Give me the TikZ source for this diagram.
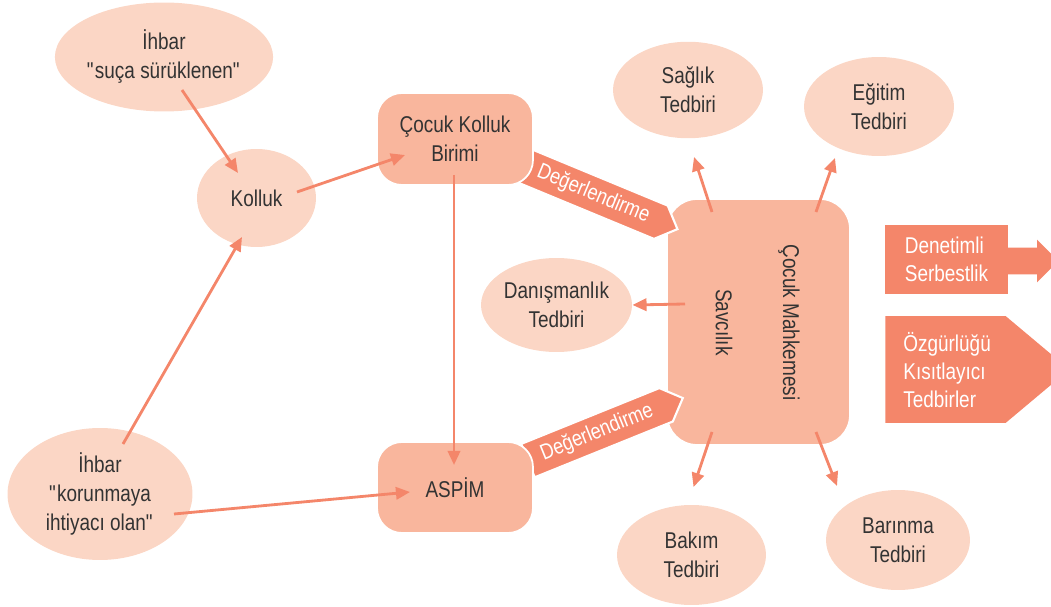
\documentclass[tikz,border=0pt]{standalone}
\usepackage{fontspec}
\setmainfont{Liberation Sans}[FakeStretch=0.83]
\usepackage[svgnames]{xcolor}
\usepackage{tikz}
\usetikzlibrary{shapes.geometric}
\usetikzlibrary{shapes.symbols}
\usetikzlibrary{shapes.arrows}
\usetikzlibrary{arrows.meta}
\usetikzlibrary{calc}
\definecolor{claro}{HTML}{FBD6C5}
\definecolor{medio}{HTML}{F9B69D}
\definecolor{fuerte}{HTML}{F4866A}
\definecolor{texto}{HTML}{333333}
\pgfdeclarelayer{fondo}
\pgfdeclarelayer{bandas}
\pgfdeclarelayer{esquema}
\pgfsetlayers{fondo,bandas,esquema,main}
\tikzstyle{none}=[inner sep=0pt]
\tikzstyle{tedbir}=[ellipse,fill=claro,text=texto,font=\fontsize{13}{16.5}\selectfont,align=center,inner sep=0pt]
\tikzstyle{birim}=[rectangle,rounded corners=0.5cm,fill=medio,draw=white,line width=1pt,text=texto,font=\fontsize{13}{16.5}\selectfont,align=center,inner sep=0pt]
\tikzstyle{dikey}=[text=texto,font=\fontsize{13}{13}\selectfont,rotate=-90,inner sep=0pt]
\tikzstyle{banda}=[signal,signal to=east,fill=fuerte,draw=white,line width=1.2pt,text=white,font=\fontsize{12.5}{12.5}\selectfont,inner sep=1pt,minimum height=0.72cm,anchor=west]
\tikzstyle{karar}=[rectangle,fill=fuerte,text=white,font=\fontsize{13}{16.2}\selectfont,align=left,inner sep=0pt]
\tikzstyle{yazi}=[text=white,font=\fontsize{13}{15.8}\selectfont,align=left,inner sep=0pt,anchor=west]
\tikzstyle{line}=[draw=fuerte,line width=1.6pt,-{Triangle[length=8pt,width=7pt]}]

\begin{document}
\begin{tikzpicture}[x=0.02cm,y=-0.02cm]
		\useasboundingbox (0,0) rectangle (1051,607);
		\begin{pgfonlayer}{fondo}
			\node [style=birim,rounded corners=0.6cm,minimum width=3.66cm,minimum height=4.92cm] (mahkeme) at (758.5,322) {};
		\end{pgfonlayer}
		\begin{pgfonlayer}{bandas}
			\node [style=banda,rotate=-22.5,minimum width=3.28cm] (deger_ust) at (525,166) {Değerlendirme};
			\node [style=banda,rotate=22,minimum width=3.34cm] (deger_alt) at (527,461) {Değerlendirme};
		\end{pgfonlayer}
		\begin{pgfonlayer}{esquema}
			\node [style=tedbir,minimum width=3.72cm,minimum height=2.18cm] (ihbar_suca) at (164,57) {İhbar\\\textquotedbl suça sürüklenen\textquotedbl};
			\node [style=tedbir,minimum width=2.38cm,minimum height=1.96cm] (kolluk) at (256.5,198) {Kolluk};
			\node [style=tedbir,minimum width=3.7cm,minimum height=2.64cm] (ihbar_koruma) at (100,494) {İhbar\\\textquotedbl korunmaya\\ihtiyacı olan\textquotedbl};
			\node [style=birim,minimum width=3.12cm,minimum height=1.84cm] (cocuk_kolluk) at (455,139) {Çocuk Kolluk\\Birimi};
			\node [style=birim,minimum width=3.12cm,minimum height=1.82cm] (aspim) at (455,487.5) {ASPİM};
			\node [style=dikey] (savcilik) at (724,322.5) {Savcılık};
			\node [style=dikey] (cocuk_mahkemesi) at (789,322.5) {Çocuk Mahkemesi};
			\node [style=tedbir,minimum width=3cm,minimum height=1.93cm] (saglik) at (688,90) {Sağlık\\Tedbiri};
			\node [style=tedbir,minimum width=3cm,minimum height=1.98cm] (egitim) at (879,106.5) {Eğitim\\Tedbiri};
			\node [style=tedbir,minimum width=3.02cm,minimum height=1.88cm] (danismanlik) at (556.5,305) {Danışmanlık\\Tedbiri};
			\node [style=tedbir,minimum width=2.98cm,minimum height=2cm] (bakim) at (691.5,555) {Bakım\\Tedbiri};
			\node [style=tedbir,minimum width=2.88cm,minimum height=2cm] (barinma) at (898,540) {Barınma\\Tedbiri};
			\node [single arrow,fill=fuerte,minimum height=1.16cm,inner xsep=0pt,inner ysep=0.26cm,single arrow head extend=0.16cm,single arrow tip angle=90,anchor=west] (denetimli_ok) at (1000,261) {};
			\node [style=karar,minimum width=2.46cm,minimum height=1.38cm] (denetimli) at (946.5,259.5) {Denetimli\\Serbestlik};
			\node [signal,signal to=east,signal pointer angle=80,fill=fuerte,minimum width=3.68cm,minimum height=2.14cm,inner sep=0pt,anchor=west] (ozgurluk) at (885,369.5) {};
			\node [style=yazi] (ozgurluk_yazi) at (903,370) {Özgürlüğü\\Kısıtlayıcı\\Tedbirler};
		\end{pgfonlayer}
		\path [style=line] ($(ihbar_suca)+(18,33)$) -- ($(kolluk)+(-18.5,-25)$);
		\path [style=line] ($(kolluk)+(40.5,-6)$) -- ($(cocuk_kolluk)+(-50,16)$);
		\path [style=line] ($(ihbar_koruma)+(23,-50)$) -- ($(kolluk)+(-14.5,39)$);
		\path [style=line] ($(ihbar_koruma)+(74,20)$) -- ($(aspim)+(-45,4.5)$);
		\path [style=line] ($(cocuk_kolluk)+(-1,36)$) -- ($(aspim)+(-1,-22.5)$);
		\path [style=line] ($(mahkeme)+(-46.5,-110)$) -- ($(saglik)+(6,67)$);
		\path [style=line] ($(mahkeme)+(57.5,-110)$) -- ($(egitim)+(-44,51.5)$);
		\path [style=line] ($(mahkeme)+(-73.5,-18)$) -- ($(danismanlik)+(76,0)$);
		\path [style=line] ($(mahkeme)+(-46.5,110)$) -- ($(bakim)+(2,-68)$);
		\path [style=line] ($(mahkeme)+(57.5,110)$) -- ($(barinma)+(-61,-54)$);
\end{tikzpicture}
\end{document}
